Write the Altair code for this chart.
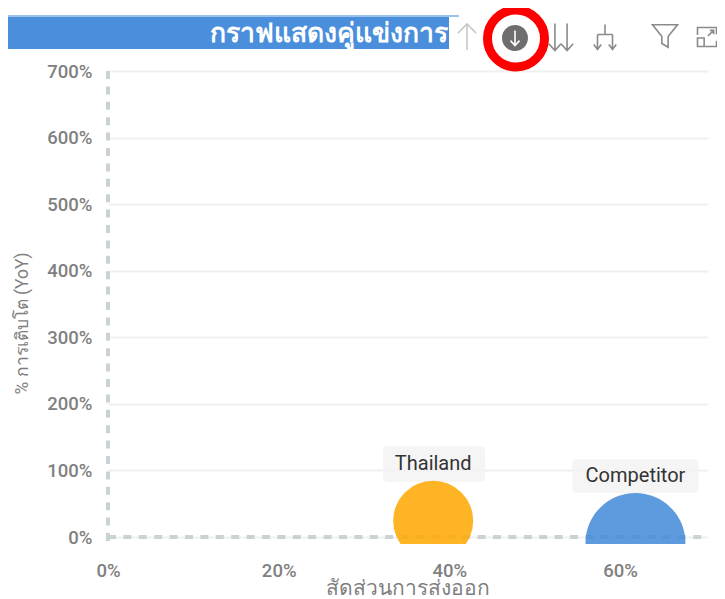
import altair as alt
import pandas as pd

names = ["Thailand", "Competitor"]
export_share = [38.1, 61.8]
growth = [24.5, -9.0]
bubble = [64, 100]
colors = ["#FFA700", "#4288D8"]
label_y = [110, 92]
box_x = [32.2, 54.4]
box_x2 = [44.2, 69.2]
box_y = [82.6, 66]
box_y2 = [136.6, 117]
x_ticks = [0, 20, 40, 60]
y_ticks = [0, 100, 200, 300, 400, 500, 600, 700]
title_text = "กราฟแสดงคู่แข่งการ"
x_title = "สัดส่วนการส่งออก"
y_title = "% การเติบโต (YoY)"

df = pd.DataFrame(dict(name=names, x=export_share, y=growth, b=bubble, c=colors,
                       ly=label_y, bx=box_x, bx2=box_x2, by=box_y, by2=box_y2))
FONT = "Roboto, 'Noto Sans', 'DejaVu Sans'"
XS = alt.Scale(domain=[0, 70.3], nice=False, zero=False)
YS = alt.Scale(domain=[-10.5, 700], nice=False, zero=False)
one = alt.Data(values=[{"a": 1}])

def px(x): return alt.value(x - 108)
def py(y): return alt.value(y - 71)

base = alt.Chart(df)

axes = base.mark_point(opacity=0).encode(
    x=alt.X("x:Q", scale=XS, axis=alt.Axis(
        values=x_ticks, labelExpr="datum.value + '%'", grid=False, domain=False, ticks=False,
        labelFontSize=18.5, labelFontWeight=500, labelColor="#808080", labelPadding=17, labelFont=FONT,
        labelFlush=False, title=x_title, titleFontSize=21, titleColor="#7f7f7f", titleFontWeight="normal",
        titleFont=FONT, titleX=299, titleY=44.5, titleBaseline="middle")),
    y=alt.Y("y:Q", scale=YS, axis=alt.Axis(
        values=y_ticks, labelExpr="datum.value + '%'", grid=True, gridColor="#f0f0f0", gridWidth=2,
        domain=False, ticks=False, labelFontSize=18.5, labelFontWeight=500, labelColor="#808080",
        labelPadding=16, labelFlush=False, labelFont=FONT, title=y_title, titleFontSize=17.5,
        titleColor="#7f7f7f", titleFontWeight="normal", titleFont=FONT, titleX=-86, titleY=252,
        titleBaseline="middle")),
)

zero_data = alt.Chart(one)
dash = [8, 7.4]
vrule = zero_data.mark_rule(color="#c9d3d5", strokeWidth=4, strokeDash=dash).encode(
    x=alt.datum(0, scale=XS, type="quantitative"),
    y=alt.value(0), y2=py(544))
hrule = zero_data.mark_rule(color="#c9d3d5", strokeWidth=4, strokeDash=dash).encode(
    y=alt.datum(0, scale=YS, type="quantitative"),
    x=alt.value(0), x2=alt.value(600))

bubbles = base.mark_circle(opacity=0.85, clip=True).encode(
    x=alt.X("x:Q", scale=XS), y=alt.Y("y:Q", scale=YS),
    size=alt.Size("b:Q", scale=alt.Scale(domain=[0, 100], range=[0, 10000]), legend=None),
    color=alt.Color("c:N", scale=None),
)
boxes = base.mark_rect(color="#f3f3f3", opacity=0.85, cornerRadius=5).encode(
    x=alt.X("bx:Q", scale=XS), x2="bx2:Q",
    y=alt.Y("by:Q", scale=YS), y2="by2:Q")
labels = base.mark_text(fontSize=20, color="#333333", font=FONT).encode(
    x=alt.X("x:Q", scale=XS), y=alt.Y("ly:Q", scale=YS), text="name:N")

# header strip
bar = zero_data.mark_rect(color="#4A8EDC").encode(
    x=px(5), x2=px(449), y=py(17), y2=py(49))
bar_top = zero_data.mark_rule(color="#9cc3ee", strokeWidth=2).encode(
    x=px(5), x2=px(459), y=py(16))
title = zero_data.mark_text(text=title_text, color="white", fontSize=26.5, fontWeight="bold",
                            align="right", font=FONT).encode(x=px(448), y=py(34))

def icon(path, x, y, size, color="#8a8a8a", sw=1.6, fill=None):
    kw = dict(shape=path, size=size, stroke=color, strokeWidth=sw, opacity=1,
              fillOpacity=1 if fill else 0, filled=False)
    if fill:
        kw["fill"] = fill
    return zero_data.mark_point(**kw).encode(x=px(x), y=py(y))

ARROW_UP = "M0,1 L0,-1 M-0.7,-0.3 L0,-1 L0.7,-0.3"
ARROW_DN = "M0,-1 L0,1 M-0.6,0.35 L0,1 L0.6,0.35"
DOUBLE = "M-0.45,-1 L-0.45,1 M-0.9,0.5 L-0.45,1 L0,0.5 M0.45,-1 L0.45,1 M0,0.5 L0.45,1 L0.9,0.5"
HIER = "M0,-1 L0,-0.2 M-0.6,-0.2 L0.6,-0.2 M-0.6,-0.2 L-0.6,1 M0.6,-0.2 L0.6,1 M-0.9,0.6 L-0.6,1 L-0.3,0.6 M0.3,0.6 L0.6,1 L0.9,0.6"
FUNNEL = "M-1,-0.9 L1,-0.9 L0.25,0.05 L0.25,0.9 L-0.25,0.6 L-0.25,0.05 Z"
EXPAND = "M-1,-0.2 L-1,-1 L1,-1 L1,-0.3 M-0.2,1 L1,1 L1,0.4 M-1,0.1 L-0.3,0.1 L-0.3,1 L-1,1 Z M0.1,-0.1 L0.7,-0.7 M0.3,-0.7 L0.7,-0.7 L0.7,-0.3"
DISC = "M-1,0 A1,1 0 1,1 1,0 A1,1 0 1,1 -1,0 Z"

icons = [
    icon(ARROW_UP, 467, 37, 676, color="#c8c8c8"),
    icon(DISC, 515, 38, 676, color="#6e6e6e", sw=0, fill="#6e6e6e"),
    icon(ARROW_DN, 515, 38, 225, color="#ffffff", sw=1.6),
    icon(DOUBLE, 561, 37, 729),
    icon(HIER, 605, 37, 625),
    icon(FUNNEL, 665, 36, 625),
    icon(EXPAND, 707, 37, 361),
    icon(DISC, 516, 38.5, 3249, color="#ff0000", sw=9),
]

chart = alt.layer(axes, vrule, hrule, boxes, bubbles, labels, bar, bar_top, title, *icons).properties(
    width=600, height=473,
    padding={"left": 100, "top": 63, "right": 9, "bottom": 55},
    autosize=alt.AutoSizeParams(type="none"),
).configure_view(stroke=None).configure_axis(labelOverlap=False)

chart.save("out.html", embed_options={"renderer": "svg", "actions": False})
